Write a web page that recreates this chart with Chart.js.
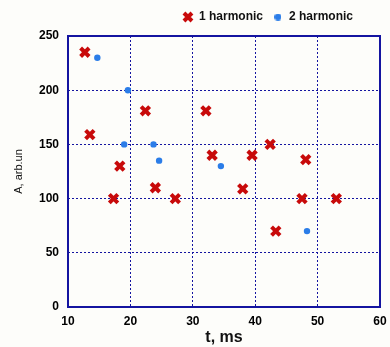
<!DOCTYPE html>
<html>
<head>
<meta charset="utf-8">
<script src="https://cdn.jsdelivr.net/npm/chart.js@4/dist/chart.umd.min.js"></script>
<style>
  html, body { margin: 0; padding: 0; background: #fdfdfa; }
  #wrap { width: 390px; height: 347px; position: relative; }
</style>
</head>
<body>
<div id="wrap"><canvas id="c"></canvas></div>
<script>
// Amplitude of the first and second harmonic versus time
const seriesNames = ['1 harmonic', '2 harmonic'];

const t1 = [12.7, 13.5, 17.3, 18.3, 22.4, 24.0, 27.2, 32.1, 33.1, 38.0, 39.5, 42.4, 43.3, 47.5, 48.1, 53.0];
const a1 = [235, 159, 100, 130, 181, 110, 100, 181, 140, 109, 140, 150, 70, 100, 136, 100];

const t2 = [14.7, 19.0, 19.6, 23.7, 24.6, 34.5, 48.3];
const a2 = [230, 150, 200, 150, 135, 130, 70];

const xTicks = [10, 20, 30, 40, 50, 60];
const yTicks = [0, 50, 100, 150, 200, 250];

const toPoints = (xs, ys) => xs.map((x, i) => ({ x: x, y: ys[i] }));

const NAVY = '#1414a0';
const RED = '#c80a0a';
const BLUE = '#2b7de8';
const tickFont = { family: 'Liberation Sans, Arial, sans-serif', size: 12, weight: 'bold' };

// small round swatch for the second legend entry
function dotSwatch(color, d) {
  const c = document.createElement('canvas');
  c.width = d; c.height = d;
  const g = c.getContext('2d');
  g.fillStyle = color;
  g.beginPath();
  g.arc(d / 2, d / 2, d / 2, 0, Math.PI * 2);
  g.fill();
  return c;
}
const blueDot = dotSwatch(BLUE, 7);

// solid frame around the plot area plus legend placement
const frame = {
  id: 'frame',
  afterLayout(chart) {
    const lg = chart.legend;
    if (lg) {
      lg.left -= 27; lg.right -= 27;
      lg.top -= 3; lg.bottom -= 3;
    }
  },
  beforeDraw(chart) {
    const ctx = chart.ctx;
    ctx.save();
    ctx.fillStyle = '#fdfdfa';
    ctx.fillRect(0, 0, chart.width, chart.height);
    ctx.restore();
  },
  beforeDatasetsDraw(chart) {
    const { ctx, chartArea: a } = chart;
    ctx.save();
    ctx.strokeStyle = NAVY;
    ctx.lineWidth = 2;
    ctx.setLineDash([]);
    ctx.strokeRect(a.left, a.top, a.right - a.left, a.bottom - a.top);
    ctx.restore();
  }
};

new Chart(document.getElementById('c'), {
  type: 'scatter',
  data: {
    datasets: [
      {
        label: seriesNames[0],
        data: toPoints(t1, a1),
        pointStyle: 'crossRot',
        pointRadius: 6,
        pointHoverRadius: 6,
        borderColor: RED,
        backgroundColor: RED,
        borderWidth: 4,
        pointBorderWidth: 4
      },
      {
        label: seriesNames[1],
        data: toPoints(t2, a2),
        pointStyle: 'circle',
        pointRadius: 3.2,
        pointHoverRadius: 3.2,
        borderColor: BLUE,
        backgroundColor: BLUE,
        borderWidth: 0,
        pointBorderWidth: 0
      }
    ]
  },
  options: {
    responsive: true,
    maintainAspectRatio: false,
    animation: false,
    devicePixelRatio: 1,
    layout: { padding: { left: 0, right: 0, top: 4, bottom: 0 } },
    plugins: {
      tooltip: { enabled: false },
      legend: {
        position: 'top',
        align: 'end',
        labels: {
          usePointStyle: true,
          boxWidth: 10,
          boxHeight: 8,
          padding: 10,
          color: '#111',
          font: tickFont,
          generateLabels(chart) {
            const items = Chart.defaults.plugins.legend.labels.generateLabels(chart);
            items.forEach(it => {
              if (it.datasetIndex === 1) it.pointStyle = blueDot;
            });
            return items;
          }
        }
      }
    },
    scales: {
      x: {
        type: 'linear',
        min: 10,
        max: 60,
        afterBuildTicks(scale) { scale.ticks = xTicks.map(v => ({ value: v })); },
        afterFit(scale) { scale.height = 40; scale.paddingRight = 9; scale.paddingLeft = 0; },
        ticks: { color: '#000', font: tickFont, padding: 7, maxRotation: 0 },
        grid: { color: NAVY, lineWidth: 1, drawTicks: false },
        border: { display: false, dash: [2, 2] },
        title: {
          display: true,
          text: 't, ms',
          color: '#111',
          font: { family: 'Liberation Sans, Arial, sans-serif', size: 16, weight: 'bold' },
          padding: { top: 0, bottom: 0 }
        }
      },
      y: {
        type: 'linear',
        min: 0,
        max: 250,
        afterBuildTicks(scale) { scale.ticks = yTicks.map(v => ({ value: v })); },
        afterFit(scale) { scale.width = 68; },
        ticks: { color: '#000', font: tickFont, padding: 9 },
        grid: { color: NAVY, lineWidth: 1, drawTicks: false },
        border: { display: false, dash: [2, 2] },
        title: {
          display: true,
          text: 'A, arb.un',
          color: '#111',
          font: { family: 'Liberation Sans, Arial, sans-serif', size: 11 },
          padding: { top: 12, bottom: 0 }
        }
      }
    }
  },
  plugins: [frame]
});
</script>
</body>
</html>
